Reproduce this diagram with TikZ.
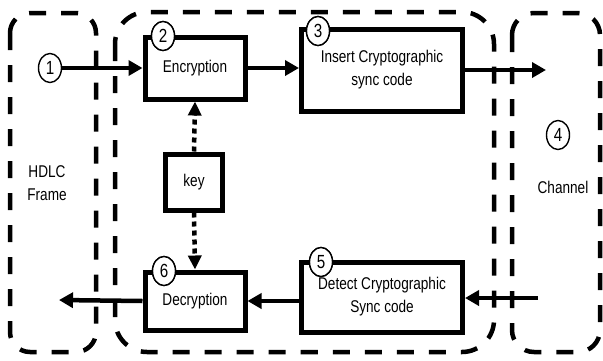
\documentclass[tikz,border=0pt]{standalone}
\usepackage{fontspec}
\setmainfont{Liberation Sans}[FakeStretch=0.8]
\usetikzlibrary{arrows.meta,shapes.geometric}
\begin{document}
\begin{tikzpicture}[x=1pt,y=-1pt,
  region/.style={line width=4.5pt,dash pattern=on 17pt off 15pt,rounded corners=#1},
  region/.default=22pt,
  procbox/.style={draw,line width=5pt,inner sep=0pt,align=center,
    font=\fontsize{17}{23}\selectfont},
  numcirc/.style={draw,ellipse,line width=1.4pt,fill=white,inner sep=0pt,
    minimum width=23pt,minimum height=29pt,font=\fontsize{19}{20}\selectfont},
  flow/.style={line width=4.5pt,-{Triangle[length=14pt,width=15pt]}},
  keyflow/.style={line width=4.5pt,dash pattern=on 5pt off 4pt,-{Triangle[length=14pt,width=13pt]}},
  lbl/.style={font=\fontsize{17}{23}\selectfont,align=center}]
\useasboundingbox (0,0) rectangle (603,360);
% regions
\draw[region=20pt] (10,13) rectangle (96,352);
\draw[region=32pt] (115,12) rectangle (494,352);
\draw[region=22pt] (512,13) rectangle (600,352);
% boxes
\node[procbox,minimum width=100pt,minimum height=62pt] (enc) at (195,68) {Encryption};
\node[procbox,minimum width=161pt,minimum height=82pt] (ins) at (382,70) {Insert Cryptographic\\sync code};
\node[procbox,minimum width=57pt,minimum height=56pt] (key) at (194,182) {key};
\node[procbox,minimum width=100pt,minimum height=58pt] (dec) at (195,301) {Decryption};
\node[procbox,minimum width=161pt,minimum height=70pt] (det) at (382,297) {Detect Cryptographic\\Sync code};
% labels
\node[lbl] (hdlc) at (47,183) {HDLC\\Frame};
\node[lbl] (chan) at (563,187) {Channel};
% numbered circles
\node[numcirc] (c1) at (50,68) {1};
\node[numcirc] (c2) at (163,36) {2};
\node[numcirc] (c3) at (318,31) {3};
\node[numcirc] (c4) at (558,135) {4};
\node[numcirc] (c5) at (321,262) {5};
\node[numcirc] (c6) at (164,271) {6};
% free ends
\coordinate (out1) at (546,70);
\coordinate (in2) at (538,298);
\coordinate (out2) at (59,300);
% connectors
\draw[flow] (c1.east) -- (c1.east -| enc.west);
\draw[flow] (enc.east) -- (enc.east -| ins.west);
\draw[flow] (ins.east |- out1) -- (out1);
\draw[flow] (in2) -- (in2 -| det.east);
\draw[flow] (det.west |- dec.east) -- (dec.east);
\draw[flow] (dec.west) -- (out2);
\draw[keyflow] (key.north) -- (enc.south);
\draw[keyflow] (key.south) -- (dec.north);
% redraw circles on top of box borders
\node[numcirc] at (c2) {2};
\node[numcirc] at (c3) {3};
\node[numcirc] at (c5) {5};
\node[numcirc] at (c6) {6};
\end{tikzpicture}
\end{document}
